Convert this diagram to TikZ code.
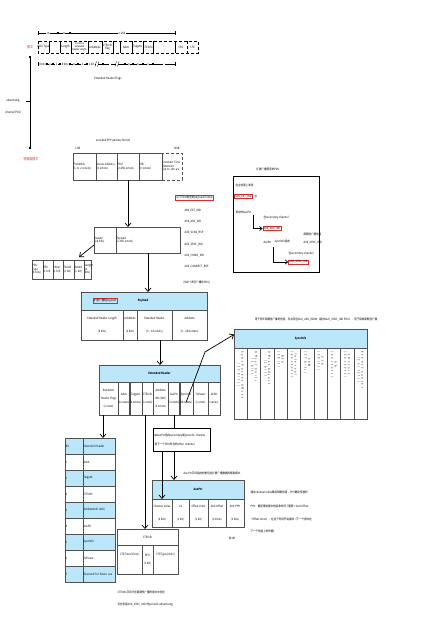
\documentclass[tikz,border=0pt]{standalone}
\usepackage{fontspec}
\setmainfont{Noto Sans CJK SC}[FakeStretch=0.85]
\usetikzlibrary{arrows.meta}
\definecolor{hblue}{RGB}{188,230,250}
\definecolor{redc}{RGB}{215,45,45}
\definecolor{gline}{RGB}{80,80,80}
\newcommand\fs{\fontsize{3}{3.5}\selectfont}
\newcommand\fsv{\fontsize{3}{3.5}\selectfont\addfontfeature{LetterSpace=60}}
\begin{document}
\begin{tikzpicture}[x=1pt,y=-1pt,
  cell/.style={draw=gline, line width=0.3pt, anchor=north west, inner sep=0.5pt, outer sep=0pt, align=center, font=\fs},
  lcell/.style={cell, align=left},
  hcell/.style={cell, fill=hblue},
  txt/.style={font=\fs, inner sep=0.3pt},
  wtxt/.style={txt, anchor=west},
  vtxt/.style={font=\fsv, inner sep=0.3pt, rotate=-90, anchor=west, align=center},
  rbox/.style={draw=redc, line width=0.6pt, inner sep=0.8pt, font=\fs},
  arr/.style={line width=0.7pt, -{Straight Barb[length=3.5pt,width=6pt]}},
  sarr/.style={line width=0.7pt, -{Straight Barb[length=2.5pt,width=4pt]}},
  thk/.style={line width=0.7pt},
  dim/.style={line width=0.3pt},
  lab/.style={txt, fill=white, inner sep=0.5pt},
  redt/.style={txt, text=redc, font=\fontsize{3.5}{4}\selectfont},
]
\fill[white] (0,0) rectangle (440,620);
\useasboundingbox (0,0) rectangle (440,620);

% ---------------- top PDU row ----------------
\draw[dim] (38,33) -- (175,33);
\draw[dim] (38,31) -- (38,35);
\draw[dim] (175,31) -- (175,35);
\fill (57,32.2) rectangle (59,33.8);
\fill (69,32.2) rectangle (71,33.8);
\node[lab] (d1) at (48,33) {16};
\node[lab] (d2) at (64,33) {8};
\node[lab] (d3) at (122,33) {0-255};

\node[redt] (lblr) at (30,47) {报文};
\draw[dim, densely dashed] (38,41) rectangle (198,53);
\foreach \x in {49,60,71,88,102,113,120,132,143,153,175} \draw[dim] (\x,41) -- (\x,53);
\draw[dim, densely dashed] (187,41) -- (187,53);
\node[txt] (f1) at (43.5,47) {PDU Type};
\node[txt] (f2) at (54.5,47) {..};
\node[txt] (f3) at (65.5,47) {Length};
\node[txt, align=center, font=\fontsize{2.5}{2.9}\selectfont] (f4) at (79.5,47) {Common\\Extended\\Header Length};
\node[txt] (f5) at (95,47) {AdvMode};
\node[txt, align=center] (f6) at (107.5,47) {CTEInfo\\flag};
\node[txt] (f7) at (116.5,47) {..};
\node[txt] (f8) at (126,47) {AdvA};
\node[txt] (f9) at (137.5,47) {TargetA};
\node[txt] (f10) at (148,47) {CTEInfo};
\node[txt] (f11) at (164,47) {...};
\node[txt] (f12) at (181,47) {CRC};
\node[txt] (f13) at (192.5,47) {CTE};

\draw[dim] (38,64) -- (175,64);
\draw[dim] (38,62) -- (38,66);
\draw[dim] (175,62) -- (175,66);
\foreach \x in {47,53,60,70,78,87,103,125,133,143,153} \fill (\x-0.8,63.2) rectangle (\x+0.8,64.8);
\foreach \x in {97,117} {
  \fill[white] (\x-1.2,61.5) rectangle (\x+1.2,66.5);
  \draw[dim] (\x-2,66.5) -- (\x-0.5,61.5);
  \draw[dim] (\x+0.5,66.5) -- (\x+2,61.5);
}
\node[lab] (b1) at (42.5,64) {4 bits};
\node[lab] (b2) at (50,64) {1};
\node[lab] (b3) at (56.5,64) {1};
\node[lab] (b4) at (65,64) {8 bits};
\node[lab] (b5) at (74,64) {6};
\node[lab] (b6) at (82.5,64) {2};
\node[lab] (b7) at (91.5,64) {1 bit};
\node[lab] (b8) at (110,64) {..};
\node[lab] (b9) at (129,64) {6};
\node[lab] (b10) at (138,64) {6};
\node[lab] (b11) at (148,64) {1};
\node[lab] (b12) at (164,64) {..};
\node[txt] (ehf) at (108,79) {Extended Header Flags};

% ---------------- left vertical ----------------
\coordinate (vtop) at (30,57);
\coordinate (vbot) at (30,148);
\draw[thk] (vtop) -- (vbot);
\fill (28.8,55.8) rectangle (31.2,58.2);
\fill (28.8,146.8) rectangle (31.2,149.2);
\draw[thk] (26,101) -- (30,101);
\node[txt, align=center] (acp) at (13,106.5) {advertising\\[8pt]channel PDU};
\node[redt] (phy) at (31,159) {物理层报文};

% ---------------- uncoded PHY packet ----------------
\node[txt] (ut) at (113,141) {uncoded PHY packets format};
\node[txt] (lsb) at (78,148) {LSB};
\node[txt] (msb) at (177,148) {MSB};
\node[lcell, text width=22pt, minimum height=27pt] (u1) at (73,153) {Preamble\\(1 or 2 octets)};
\node[lcell, text width=20pt, minimum height=27pt] (u2) at (96,153) {Access-Address\\(4 octets)};
\node[lcell, text width=21pt, minimum height=27pt] (u3) at (117,153) {PDU\\(2-258 octets)};
\node[lcell, text width=22pt, minimum height=27pt] (u4) at (139,153) {CRC\\(3 octets)};
\node[lcell, text width=19pt, minimum height=27pt, densely dashed] (u5) at (162,153) {Constant Tone\\Extension\\(16 to 160 µs)};

% ---------------- header / payload ----------------
\node[lcell, text width=21pt, minimum height=26pt] (hp1) at (94,227) {Header\\(16 bits)};
\node[lcell, text width=63pt, minimum height=26pt] (hp2) at (116,227) {Payload\\(1-255 octets)};
\draw[arr] (u3.south) -- (u3.south |- hp2.north);

\node[lcell, text width=10pt, minimum height=19pt] (s1) at (31.7,260) {PDU Type\\(4 bits)};
\node[lcell, text width=9pt, minimum height=19pt] (s2) at (42.7,260) {RFU\\(1 bit)};
\node[lcell, text width=9.6pt, minimum height=19pt] (s3) at (52.7,260) {ChSel\\(1 bit)};
\node[lcell, text width=9.7pt, minimum height=19pt] (s4) at (63.3,260) {TxAdd\\(1 bit)};
\node[lcell, text width=9.3pt, minimum height=19pt] (s5) at (74,260) {RxAdd\\(1 bit)};
\node[lcell, text width=6pt, minimum height=19pt] (s6) at (84.3,260) {Length\\(8 bits)};
\draw[arr] ([yshift=-5pt]hp1.west) -- ([yshift=3pt]s5.north);

% ---------------- PDU type list ----------------
\node[rbox] (rfmt) at (194.5,198) {以下PDU类型的payload format};
\node[wtxt] (l1) at (184,211) {ADV\_EXT\_IND};
\node[wtxt] (l2) at (184,222) {AUX\_ADV\_IND};
\node[wtxt] (l3) at (184,233) {AUX\_SCAN\_RSP};
\node[wtxt] (l4) at (184,245) {AUX\_SYNC\_IND};
\node[wtxt] (l5) at (184,256) {AUX\_CHAIN\_IND};
\node[wtxt] (l6) at (184,267) {AUX\_CONNECT\_RSP};
\node[wtxt] (l7) at (183,282) {[IND→表示广播的PDU]};

% ---------------- right box ----------------
\node[txt] (rt) at (268,169) {扩展广播使用的PDU};
\node[draw, line width=1.1pt, minimum width=86pt, minimum height=96pt, anchor=north west, inner sep=0pt] (rbx) at (233,176) {};
\node[wtxt] (r1) at (235,185) {在主信道上发送};
\node[rbox] (rb1) at (243.5,196.5) {ADV\_EXT\_IND};
\node[wtxt] (r1b) at (254,196.5) {中};
\node[wtxt] (r2) at (235,212) {其中的AuxPtr};
\node[wtxt] (r3) at (263,218) {在secondary channel};
\node[rbox] (rb2) at (272,228.5) {AUX\_ADV\_IND};
\coordinate (k1) at (253,215);
\draw[sarr] (k1) |- (rb2.west);
\node[wtxt] (r4) at (263,242) {AuxPtr};
\node[wtxt] (r5) at (274,242) {SyncInfo指向};
\node[wtxt] (r6) at (303,234) {周期性广播信息};
\node[wtxt] (r7) at (303,243) {AUX\_SYNC\_IND};
\node[wtxt] (r8) at (288,254) {在secondary channel};
\node[rbox] (rb3) at (298.5,262) {AUX\_SYNC\_IND};
\coordinate (k2) at (273,247);
\draw[sarr] (k2) |- (rb3.west);

% ---------------- Payload table ----------------
\node[hcell, minimum width=126pt, minimum height=18pt] (ph) at (81,292) {};
\node[rbox] (phr) at (105,301) {扩展广播的payload};
\node[txt, font=\fs\bfseries] (pht) at (143,301) {Payload};
\node[cell, minimum width=42pt, minimum height=30pt] (p1) at (81,310) {Extended Header Length\\[10pt](6 bits)};
\node[cell, minimum width=14pt, minimum height=30pt] (p2) at (123,310) {AdvMode\\[10pt](2 bits)};
\node[cell, minimum width=35pt, minimum height=30pt] (p3) at (137,310) {Extended Header\\[10pt](0 – 63 octets)};
\node[cell, minimum width=35pt, minimum height=30pt] (p4) at (172,310) {AdvData\\[10pt](0 – 254 octets)};
\draw[arr] (hp2.south) -- (hp2.south |- ph.north);

% ---------------- Extended Header table ----------------
\node[hcell, minimum width=121pt, minimum height=17pt, font=\fs\bfseries] (eh) at (99,365) {Extended Header};
\node[cell, minimum width=19pt, minimum height=33pt] (e1) at (99,382) {Extended\\[4.5pt]Header Flags\\[4.5pt](1 octet)};
\node[cell, minimum width=11pt, minimum height=33pt] (e2) at (118,382) {AdvA\\[4.5pt](6 octets)};
\node[cell, minimum width=13pt, minimum height=33pt] (e3) at (129,382) {TargetA\\[4.5pt](6 octets)};
\node[cell, minimum width=11pt, minimum height=33pt] (e4) at (142,382) {CTEInfo\\[4.5pt](1 octet)};
\node[cell, minimum width=15pt, minimum height=33pt] (e5) at (153,382) {AdvData\\[4.5pt]Info (ADI)\\[4.5pt](2 octets)};
\node[cell, minimum width=11pt, minimum height=33pt] (e6) at (168,382) {AuxPtr\\[4.5pt](3 octets)};
\node[cell, minimum width=14pt, minimum height=33pt] (e7) at (179,382) {SyncInfo\\[4.5pt](18 octets)};
\node[cell, minimum width=15pt, minimum height=33pt] (e8) at (193,382) {TxPower\\[4.5pt](1 octet)};
\node[cell, minimum width=12pt, minimum height=33pt] (e9) at (208,382) {ACAD\\[4.5pt](varies)};
\draw[arr] ([xshift=5.5pt]p3.south) -- ([xshift=5.5pt]p3.south |- eh.north);

% ---------------- SyncInfo table ----------------
\node[txt] (st) at (316,319) {用于同步周期性广播的信息，仅出现在AUX\_ADV\_IND中（指向AUX\_SYNC\_IND PDU），用于接收周期性广播};
\node[hcell, minimum width=133pt, minimum height=19pt, font=\fs\bfseries] (sh) at (234,329) {SyncInfo};
\foreach \i/\t [count=\k from 0] in {
  sy1/{Sync Packet Offset\\(13 bits)},
  sy2/{Offset Units\\(1 bit)},
  sy3/{Offset Adjust\\(1 bit)},
  sy4/{RFU\\(1 bit)},
  sy5/{Interval\\(2 octets)},
  sy6/{ChM\\(37 bits)},
  sy7/{SCA\\(3 bits)},
  sy8/{AA\\(4 octets)},
  sy9/{CRCInit\\(3 octets)},
  sy10/{Event Counter\\(2 octets)}} {
  \node[cell, minimum width=13.3pt, minimum height=71pt] (\i) at (234+13.3*\k,348) {};
  \node[vtxt] (\i t) at (240.65+13.3*\k,351) {\t};
}
\draw[thk, -{Straight Barb[length=3.5pt,width=6pt]}] ([yshift=-4pt]e7.center) -- (205,352) -- ([yshift=4pt]sh.west);

% ---------------- Bit table ----------------
\node[hcell, align=left, text width=17pt, minimum height=16pt] (bh1) at (65,438) {Bit};
\node[hcell, align=left, text width=31pt, minimum height=16pt] (bh2) at (83,438) {Extended Header};
\foreach \b/\n [count=\k from 0] in {0/AdvA,1/TargetA,2/CTEInfo,3/AdvDataInfo (ADI),4/AuxPtr,5/SyncInfo,6/TxPower,7/Reserved for future use} {
  \pgfmathsetmacro\yy{454+16*\k}
  \ifodd\k
    \node[hcell, align=left, text width=17pt, minimum height=16pt] (bn\k) at (65,\yy) {\b};
    \node[hcell, align=left, text width=31pt, minimum height=16pt] (bx\k) at (83,\yy) {\n};
  \else
    \node[cell, align=left, text width=17pt, minimum height=16pt] (bn\k) at (65,\yy) {\b};
    \node[cell, align=left, text width=31pt, minimum height=16pt] (bx\k) at (83,\yy) {\n};
  \fi
}
\draw[arr] ([xshift=-5.5pt]e1.south) -- ([xshift=-5.5pt]e1.south |- bh2.north);

% ---------------- AuxPtr box and table ----------------
\node[draw, line width=1.1pt, anchor=north west, minimum width=57pt, minimum height=23pt, inner sep=1pt, align=left, font=\fs, text width=55pt] (apb) at (153,428) {由AuxPtr指向secondary或periodic channel\\[5pt]指下一个PDU所在的other channel};
\draw[thk] (e6.south) -- (e6.south |- apb.north);
\node[wtxt] (apt) at (183,473) {Aux Ptr字段指向的是包含扩展广播数据的辅助报文};
\node[hcell, minimum width=92pt, minimum height=19pt, font=\fs\bfseries] (ah) at (152,480) {AuxPtr};
\node[cell, minimum width=20pt, minimum height=28pt] (a1) at (152,499) {Channel Index\\[9pt](6 bits)};
\node[cell, minimum width=17pt, minimum height=28pt] (a2) at (172,499) {CA\\[9pt](1 bit)};
\node[cell, minimum width=19pt, minimum height=28pt] (a3) at (189,499) {Offset Units\\[9pt](1 bit)};
\node[cell, minimum width=18pt, minimum height=28pt] (a4) at (208,499) {AUX Offset\\[9pt](13 bits)};
\node[cell, minimum width=18pt, minimum height=28pt] (a5) at (226,499) {AUX PHY\\[9pt](3 bits)};
\draw[arr] (e6.south |- apb.south) -- (e6.south |- ah.north);
\draw[arr] (apb.south -| a1.north) -- (a1.north);
\node[wtxt] (ax1) at (250,492) {通过channel index确定辅助信道，PHY确定传输的};
\node[wtxt] (ax2) at (250,506) {PHY，确定辅助报文的接收时刻（偏移 = AUX Offset};
\node[wtxt] (ax3) at (250,519) {* Offset Units），在这个时刻开始接收（下一个报文在};
\node[wtxt] (ax4) at (250,531) {下一个信道上的传输）};
\node[txt] (ax5) at (232,538) {如1M};

% ---------------- CTEInfo table ----------------
\node[cell, minimum width=61pt, minimum height=16pt] (ch) at (117,529) {CTEInfo};
\node[cell, minimum width=25pt, minimum height=29pt] (c1) at (117,545) {CTETime(5 bits)\\[6pt]\ };
\node[cell, minimum width=11pt, minimum height=29pt] (c2) at (142,545) {RFU\\[4pt](1 bit)};
\node[cell, minimum width=25pt, minimum height=29pt] (c3) at (153,545) {CTEType(2 bits)\\[6pt]\ };
\draw[arr] ([xshift=-2.5pt]e4.south) -- ([xshift=-2.5pt]e4.south |- ch.north);
\node[wtxt] (ct1) at (117,592) {CTEInfo字段只在周期性广播的报文中存在};
\node[wtxt] (ct2) at (117,605) {仅在包括AUX\_SYNC\_IND 的periodic advertising};

\end{tikzpicture}
\end{document}
